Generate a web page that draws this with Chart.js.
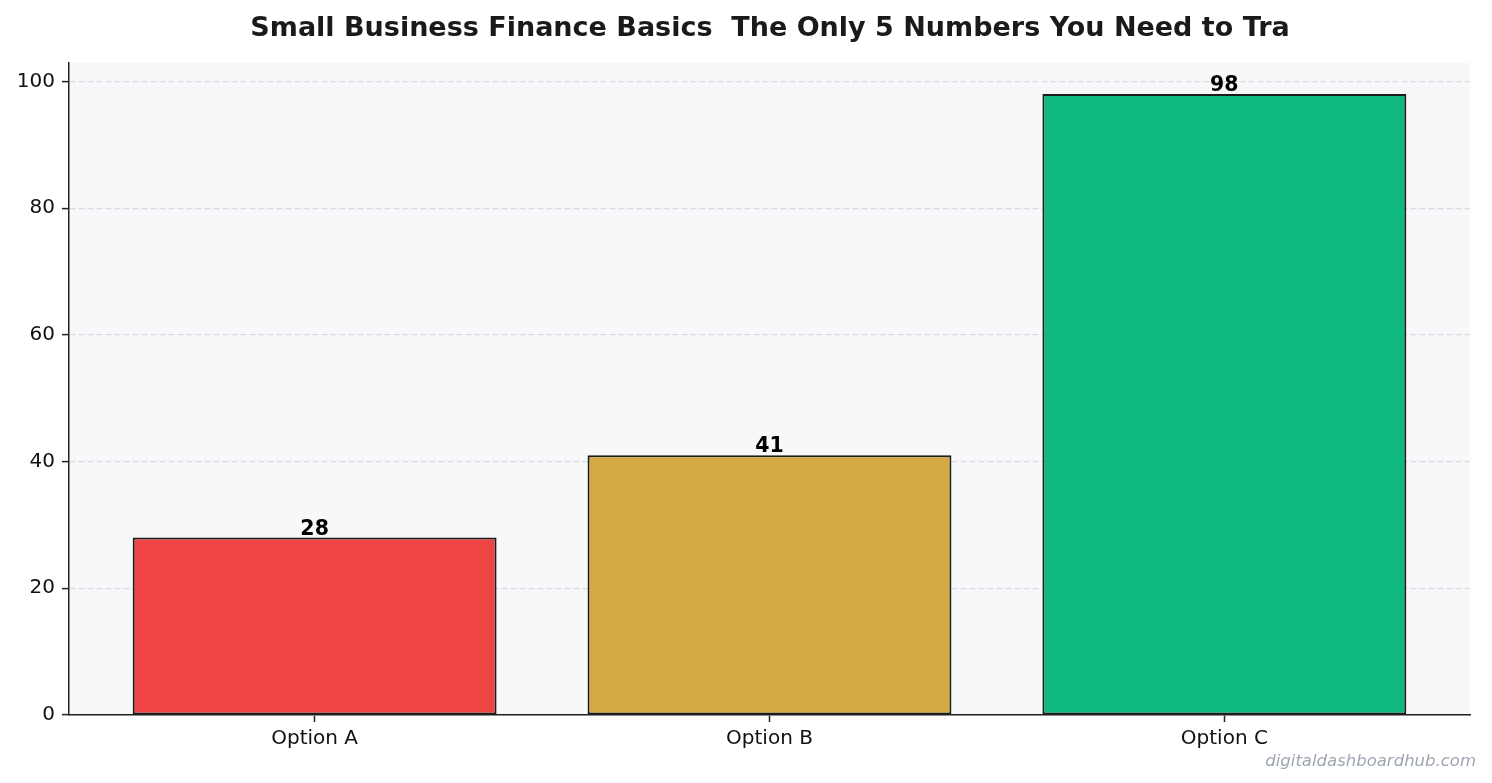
<!DOCTYPE html>
<html>
<head>
<meta charset="utf-8">
<script src="https://cdn.jsdelivr.net/npm/chart.js@4/dist/chart.umd.min.js"></script>
<style>
  html, body { margin: 0; padding: 0; background: #ffffff; }
  #wrap { width: 1492px; height: 783px; position: relative; }
</style>
</head>
<body>
<div id="wrap"><canvas id="chart"></canvas></div>
<script>
// Données du graphique
const categories = ['Option A', 'Option B', 'Option C'];
const values = [28, 41, 98];
const barColors = ['#ef4444', '#d4a843', '#10b981'];
const yTicks = [0, 20, 40, 60, 80, 100];
const titleText = 'Small Business Finance Basics  The Only 5 Numbers You Need to Tra';
const watermark = 'digitaldashboardhub.com';

const FONT = "'DejaVu Sans', sans-serif";

// Fond gris clair de la zone de tracé
const plotBg = {
    id: 'plotBg',
    beforeDraw(chart) {
        const a = chart.chartArea;
        const ctx = chart.ctx;
        ctx.save();
        ctx.fillStyle = '#f7f8fa';
        ctx.fillRect(a.left, a.top, a.right - a.left, a.bottom - a.top);
        ctx.restore();
    }
};

// Titre, étiquettes de valeur et filigrane
const extras = {
    id: 'extras',
    afterDatasetsDraw(chart) {
        const ctx = chart.ctx;
        ctx.save();
        ctx.fillStyle = '#000000';
        ctx.font = 'bold 20.5px ' + FONT;
        ctx.textAlign = 'center';
        ctx.textBaseline = 'alphabetic';
        chart.getDatasetMeta(0).data.forEach((bar, i) => {
            ctx.fillText(String(values[i]), bar.x, bar.y - 3);
        });
        ctx.restore();
    },
    afterDraw(chart) {
        const ctx = chart.ctx;
        ctx.save();
        ctx.fillStyle = '#1a1a1a';
        ctx.font = 'bold 27px ' + FONT;
        ctx.textAlign = 'center';
        ctx.textBaseline = 'alphabetic';
        ctx.fillText(titleText, 770, 36);

        ctx.fillStyle = 'rgba(148, 155, 170, 0.9)';
        ctx.font = 'italic 16.5px ' + FONT;
        ctx.textAlign = 'right';
        ctx.fillText(watermark, 1476, 766);
        ctx.restore();
    }
};

new Chart(document.getElementById('chart'), {
    type: 'bar',
    data: {
        datasets: [{
            data: values.map((v, i) => ({ x: i, y: v })),
            backgroundColor: barColors,
            borderColor: '#1a1a1a',
            borderWidth: 2,
            borderSkipped: false,
            barPercentage: 0.8,
            categoryPercentage: 1.0
        }]
    },
    options: {
        responsive: true,
        maintainAspectRatio: false,
        animation: false,
        layout: { padding: { left: 0, right: 22, top: 63, bottom: 0 } },
        plugins: {
            legend: { display: false },
            tooltip: { enabled: false },
            title: { display: false }
        },
        scales: {
            x: {
                type: 'linear',
                min: -0.54,
                max: 2.54,
                offset: false,
                afterBuildTicks: s => { s.ticks = categories.map((c, i) => ({ value: i })); },
                afterFit: s => { s.height = 68; },
                ticks: {
                    callback: v => categories[v],
                    color: '#111111',
                    font: { family: FONT, size: 20 },
                    padding: 5,
                    maxRotation: 0
                },
                grid: {
                    offset: false,
                    drawOnChartArea: false,
                    tickLength: 7,
                    tickColor: '#222222',
                    tickWidth: 1.5
                },
                border: { color: '#222222', width: 1.5 }
            },
            y: {
                min: 0,
                max: 102.9,
                afterBuildTicks: s => { s.ticks = yTicks.map(v => ({ value: v })); },
                afterFit: s => { s.width = 69; },
                ticks: {
                    color: '#111111',
                    font: { family: FONT, size: 20 },
                    padding: 7
                },
                grid: {
                    color: '#d8dbe0',
                    lineWidth: 1.2,
                    tickLength: 7,
                    tickColor: '#222222',
                    tickWidth: 1.5
                },
                border: { color: '#222222', width: 1.5, dash: [6, 3] }
            }
        }
    },
    plugins: [plotBg, extras]
});
</script>
</body>
</html>
